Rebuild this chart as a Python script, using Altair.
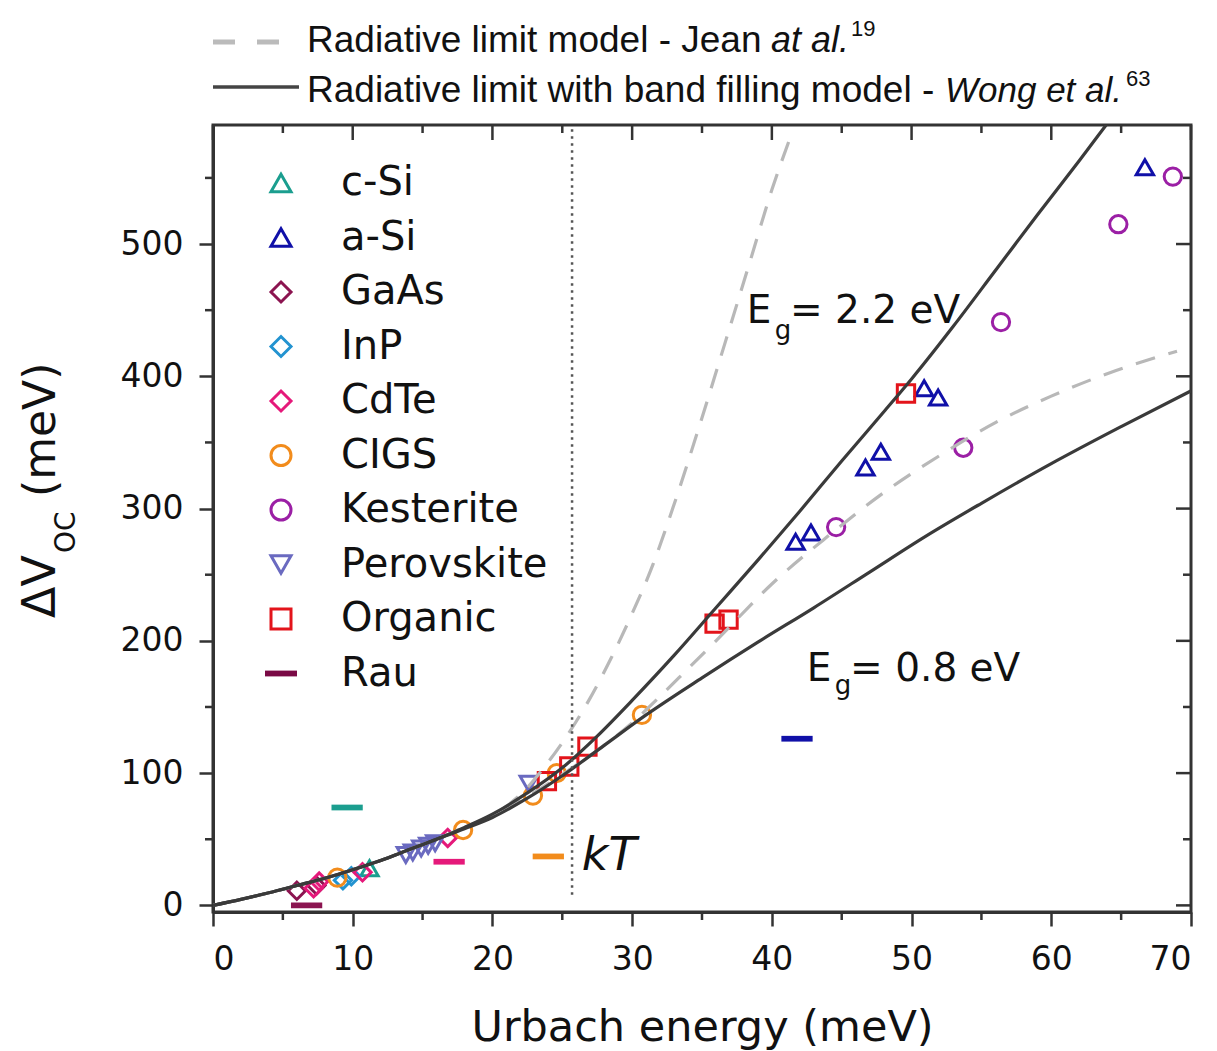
import altair as alt
import pandas as pd

# ---------------- data ----------------
materials = ["c-Si", "a-Si", "GaAs", "InP", "CdTe", "CIGS", "Kesterite", "Perovskite", "Organic", "Rau"]
mat_colors = ["#1b9e8f", "#1010a8", "#8b1450", "#2393d0", "#e5197a", "#f28c1c", "#9b1fa5", "#6a6ac0", "#e3141b", "#7a0a45"]
RAU_BAR = "M-1.45,-0.14H1.45V0.14H-1.45Z"
mat_shapes = ["triangle-up", "triangle-up", "diamond", "diamond", "diamond", "circle", "circle", "triangle-down", "square", RAU_BAR]

csi_x, csi_y = [11.2], [28]
asi_x = [41.7, 42.8, 46.7, 47.8, 50.9, 51.9, 66.7]
asi_y = [275, 282, 331, 343, 391, 384, 558]
gaas_x, gaas_y = [6.0, 7.4], [11, 15]
inp_x, inp_y = [9.3, 9.9], [19, 22]
cdte_x = [7.2, 7.6, 10.7, 16.8]
cdte_y = [13, 18, 25, 51]
cigs_x = [8.9, 17.9, 22.9, 24.6, 30.7]
cigs_y = [21, 57, 83, 100, 144]
kest_x = [44.6, 53.7, 56.4, 64.8, 68.7]
kest_y = [286, 346, 441, 515, 551]
pero_x = [13.8, 14.3, 14.9, 15.4, 15.9, 22.6]
pero_y = [38, 40, 43, 45, 47, 92]
org_x = [23.9, 25.5, 26.8, 35.9, 36.9, 49.6]
org_y = [94, 105, 120, 213, 216, 387]

rau_materials = ["c-Si", "GaAs", "CdTe", "CIGS", "a-Si"]
rau_x = [9.6, 6.7, 16.9, 24.0, 41.8]
rau_y = [74, 0, 33, 37, 126]

# model curves
common_x = [0, 2, 4, 6, 8, 10, 12, 14, 16]
common_y = [0, 4.5, 9.5, 15, 20.5, 27, 34, 42, 50]
wong22_x = [18, 20, 22.5, 25, 27.5, 30, 33, 36, 39, 42, 45, 48, 50, 53, 56, 59, 62, 64, 65]
wong22_y = [59, 69, 85, 104, 128, 155, 189, 225, 261, 298, 336, 373, 398, 438, 480, 522, 563, 591, 605]
wong08_x = [18, 20, 22.5, 25, 28, 31, 35, 39, 43, 47, 51, 55, 60, 65, 70]
wong08_y = [58, 66.5, 81, 98, 121, 144, 172, 199, 225, 252, 279, 304, 334, 362, 389]
jean22_x = [18, 20, 21, 22.5, 23.6, 25, 26.9, 28.5, 29.8, 31.5, 32.9, 34.8, 36.7, 38.5, 40, 41.3]
jean22_y = [59, 68, 75, 89, 103, 123, 155, 187, 216, 258, 300, 362, 427, 489, 541, 580]
jean08_x = [18, 20, 22, 24, 26, 28, 30, 32, 34, 36, 40, 44, 48, 52, 56, 60, 64, 69]
jean08_y = [59, 68, 79, 92, 106, 121, 138, 158, 179, 200, 243, 279, 312, 340, 365, 385, 402, 419]

kT = 25.7

major_x = [0, 10, 20, 30, 40, 50, 60, 70]
minor_x = [5, 15, 25, 35, 45, 55, 65]
major_y = [0, 100, 200, 300, 400, 500]
minor_y = [50, 150, 250, 350, 450, 550]

# ---------------- tables ----------------
groups = [("c-Si", csi_x, csi_y), ("a-Si", asi_x, asi_y), ("GaAs", gaas_x, gaas_y),
          ("InP", inp_x, inp_y), ("CdTe", cdte_x, cdte_y), ("CIGS", cigs_x, cigs_y),
          ("Kesterite", kest_x, kest_y), ("Perovskite", pero_x, pero_y), ("Organic", org_x, org_y)]
rows = []
for m, gx, gy in groups:
    for a, b in zip(gx, gy):
        rows.append({"material": m, "x": a, "y": b})
pts_df = pd.DataFrame(rows)
rau_df = pd.DataFrame({"material": rau_materials, "x": rau_x, "y": rau_y})

crows = []
for name, model, cx, cy in [("wong22", "Wong", wong22_x, wong22_y), ("wong08", "Wong", wong08_x, wong08_y),
                            ("jean22", "Jean", jean22_x, jean22_y), ("jean08", "Jean", jean08_x, jean08_y)]:
    for a, b in zip(common_x + cx, common_y + cy):
        crows.append({"curve": name, "model": model, "x": a, "y": b})
curves_df = pd.DataFrame(crows)

# ---------------- layout ----------------
W, H = 978, 787
FONT = "DejaVu Sans"
HFONT = "Liberation Sans"
INK = "#111111"
AX = "#333333"

xs = alt.Scale(domain=[0, 70], nice=False, zero=False)
ys = alt.Scale(domain=[-5, 590], nice=False, zero=False)
cscale = alt.Scale(domain=materials, range=mat_colors)
sscale = alt.Scale(domain=materials, range=mat_shapes)

xaxis = alt.Axis(values=major_x, tickSize=14, tickWidth=2.5, tickColor=AX, domainColor=AX, domainWidth=3,
                 labelFont=FONT, labelFontSize=33, labelColor=INK, labelPadding=17, grid=False,
                 title="Urbach energy (meV)", titleFont=FONT, titleFontSize=43, titleFontWeight="normal",
                 titleColor=INK, titlePadding=30)
yaxis = alt.Axis(values=major_y, tickSize=14, tickWidth=2.5, tickColor=AX, domainColor=AX, domainWidth=3,
                 labelFont=FONT, labelFontSize=33, labelColor=INK, labelPadding=16, grid=False, title="")

leg = alt.Legend(title=None, orient="none", legendX=48, legendY=38, labelFont=FONT, labelFontSize=40,
                 labelColor=INK, labelOffset=40, labelLimit=400, symbolSize=400, symbolStrokeWidth=3,
                 rowPadding=14.5, padding=0)

def X(f):
    return alt.X(f, type="quantitative", scale=xs, axis=xaxis)

def Y(f):
    return alt.Y(f, type="quantitative", scale=ys, axis=yaxis)

wong = alt.Chart(curves_df).transform_filter(alt.datum.model == "Wong").mark_line(
    color="#3a3a3a", strokeWidth=3.2, clip=True, interpolate="monotone").encode(
    x=X("x"), y=Y("y"), detail="curve:N")
jean = alt.Chart(curves_df).transform_filter(alt.datum.model == "Jean").mark_line(
    color="#b8b8b8", strokeWidth=3.2, strokeDash=[20, 14], clip=True, interpolate="monotone").encode(
    x=X("x"), y=Y("y"), detail="curve:N")

kt_line = alt.Chart(pd.DataFrame({"v": [kT], "lo": [8], "hi": [590]})).mark_rule(
    color="#555555", strokeWidth=2.5, strokeDash=[2.5, 4.5]).encode(
    x=X("v"), y=Y("lo"), y2="hi:Q")

points = alt.Chart(pts_df).mark_point(filled=False, size=300, strokeWidth=3, opacity=1).encode(
    x=X("x"), y=Y("y"),
    color=alt.Color("material:N", scale=cscale, legend=leg),
    shape=alt.Shape("material:N", scale=sscale, legend=leg),
)
rau = alt.Chart(rau_df).mark_point(shape=RAU_BAR, filled=False, size=380, strokeWidth=3, opacity=1).encode(
    x=X("x"), y=Y("y"), color=alt.Color("material:N", scale=cscale, legend=None))

# ticks: minor outward on bottom/left, mirrored inward on top/right
tick_style = dict(color=AX, strokeWidth=2.5)
bx_minor = alt.Chart(pd.DataFrame({"v": minor_x})).mark_rule(**tick_style).encode(
    x=X("v"), y=alt.value(H), y2=alt.value(H + 8))
ly_minor = alt.Chart(pd.DataFrame({"v": minor_y})).mark_rule(**tick_style).encode(
    y=Y("v"), x=alt.value(0), x2=alt.value(-8))
tx_major = alt.Chart(pd.DataFrame({"v": major_x})).mark_rule(**tick_style).encode(
    x=X("v"), y=alt.value(0), y2=alt.value(15))
tx_minor = alt.Chart(pd.DataFrame({"v": minor_x})).mark_rule(**tick_style).encode(
    x=X("v"), y=alt.value(0), y2=alt.value(8))
ry_major = alt.Chart(pd.DataFrame({"v": major_y})).mark_rule(**tick_style).encode(
    y=Y("v"), x=alt.value(W), x2=alt.value(W - 15))
ry_minor = alt.Chart(pd.DataFrame({"v": minor_y})).mark_rule(**tick_style).encode(
    y=Y("v"), x=alt.value(W), x2=alt.value(W - 8))

one = pd.DataFrame({"a": [0]})

def dtext(txt, xv, yv, size, italic=False):
    d = pd.DataFrame({"px": [xv], "py": [yv]})
    return alt.Chart(d).mark_text(text=txt, font=FONT, fontSize=size, color=INK, align="left",
                                  baseline="alphabetic", fontStyle="italic" if italic else "normal").encode(
        x=X("px"), y=Y("py"))

def ptext(txt, xp, yp, size, font=FONT, italic=False, angle=0):
    kw = dict(text=txt, font=font, fontSize=size, color=INK, align="left", baseline="alphabetic",
              fontStyle="italic" if italic else "normal")
    if angle:
        kw["angle"] = angle
    return alt.Chart(one).mark_text(**kw).encode(x=alt.value(xp), y=alt.value(yp))

annots = [
    dtext("E", 38.2, 440, 39), dtext("g", 40.2, 428, 26), dtext("= 2.2 eV", 41.3, 440, 39),
    dtext("E", 42.5, 170, 39), dtext("g", 44.5, 160, 26), dtext("= 0.8 eV", 45.6, 170, 39),
    dtext("kT", 26.4, 26.5, 46, italic=True),
    # y-axis title: ΔV_OC (meV)
    ptext("ΔV", -158, 493, 46, angle=270),
    ptext("OC", -138, 428, 28, angle=270),
    ptext("(meV)", -158, 372, 44, angle=270),
    # header legend
    ptext("Radiative limit model - Jean", 94, -73, 37, font=HFONT),
    ptext("at al.", 558, -73, 36, font=HFONT, italic=True),
    ptext("19", 638, -89, 22, font=HFONT),
    ptext("Radiative limit with band filling model -", 94, -23, 37, font=HFONT),
    ptext("Wong et al.", 732, -23, 35, font=HFONT, italic=True),
    ptext("63", 913, -39, 22, font=HFONT),
]

hdr_dash = alt.Chart(one).mark_rule(color="#bbbbbb", strokeWidth=5, strokeDash=[22, 22]).encode(
    x=alt.value(0), x2=alt.value(72), y=alt.value(-83))
hdr_solid = alt.Chart(one).mark_rule(color="#444444", strokeWidth=3.5).encode(
    x=alt.value(0), x2=alt.value(86), y=alt.value(-38))

chart = alt.layer(
    points, jean, wong, kt_line, rau,
    bx_minor, ly_minor, tx_major, tx_minor, ry_major, ry_minor,
    hdr_dash, hdr_solid, *annots,
).properties(
    width=W, height=H,
    padding={"left": 213, "top": 125, "right": 26, "bottom": 139},
    autosize=alt.AutoSizeParams(type="none"),
    background="white",
).configure_view(stroke=AX, strokeWidth=3)

chart.save("out.html", embed_options={"renderer": "svg", "actions": False})
